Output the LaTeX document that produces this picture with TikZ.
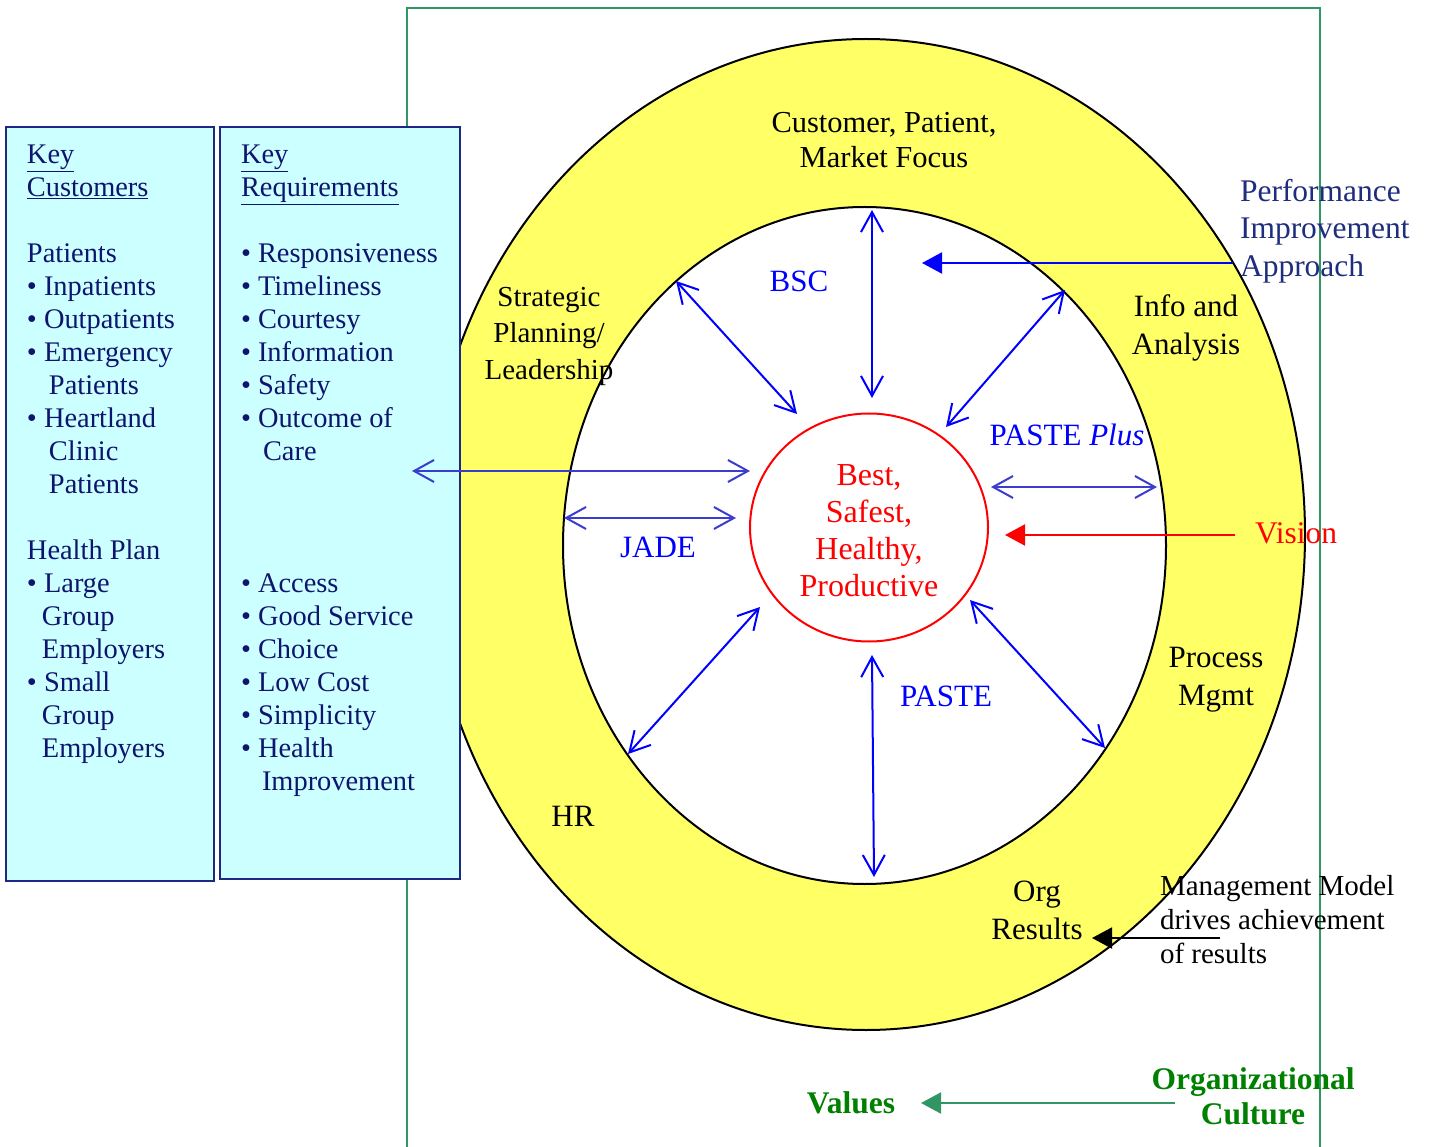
\documentclass[tikz,border=0pt]{standalone}
\usepackage{fontspec}
\setmainfont{Liberation Serif}
\usetikzlibrary{arrows.meta}

\definecolor{boxfill}{RGB}{204,255,255}
\definecolor{boxline}{RGB}{30,40,130}
\definecolor{boxtext}{RGB}{15,20,110}
\definecolor{ringfill}{RGB}{255,255,102}
\definecolor{frame}{RGB}{50,150,100}
\definecolor{cultgreen}{RGB}{0,128,0}
\definecolor{pia}{RGB}{30,45,125}
\definecolor{softblue}{RGB}{60,60,205}

\begin{document}
\begin{tikzpicture}[x=1pt,y=-1pt,
  every node/.style={inner sep=0pt,outer sep=0pt},
  keybox/.style={draw=boxline,line width=2.5pt,fill=boxfill},
  keytext/.style={anchor=north west,align=left,text=boxtext,font=\fontsize{28.4}{33}\selectfont},
  ringlabel/.style={align=center,text=black,font=\fontsize{29}{36.5}\selectfont},
  ringlabelb/.style={align=center,text=black,font=\fontsize{31}{38}\selectfont},
  toollabel/.style={text=blue,font=\fontsize{31}{37}\selectfont},
  twoway/.style={blue,line width=2pt,{Straight Barb[length=20pt,width=22pt]}-{Straight Barb[length=20pt,width=22pt]}},
  twowaysoft/.style={softblue,line width=2pt,{Straight Barb[length=20pt,width=22pt]}-{Straight Barb[length=20pt,width=22pt]}},
  drive/.style={line width=2pt,-{Triangle[length=20pt,width=21pt]}}]

\useasboundingbox (0,0) rectangle (1433,1147);

% organizational culture frame
\draw[frame,line width=2pt] (407,1147) -- (407,8) -- (1320,8) -- (1320,1147);

% management model rings
\draw[black,line width=2pt,fill=ringfill] (866,534.5) ellipse [x radius=439pt,y radius=495.5pt];
\draw[black,line width=2pt,fill=white] (864.5,545.5) ellipse [x radius=301.5pt,y radius=338.5pt];
\draw[red,line width=2pt] (869,527.5) ellipse [x radius=119pt,y radius=114pt];

% key customers and requirements
\draw[keybox] (6,127) rectangle (214,881);
\draw[keybox] (220,127) rectangle (460,879);

\node[keytext] (cust) at (27,145) {\underline{Key}\\\underline{Customers}\\[33pt]
Patients\\
\textbullet\ Inpatients\\
\textbullet\ Outpatients\\
\textbullet\ Emergency\\
\hspace*{22pt}Patients\\
\textbullet\ Heartland\\
\hspace*{22pt}Clinic\\
\hspace*{22pt}Patients\\[33pt]
Health Plan\\
\textbullet\ Large\\
\hspace*{15pt}Group\\
\hspace*{15pt}Employers\\
\textbullet\ Small\\
\hspace*{15pt}Group\\
\hspace*{15pt}Employers};

\node[keytext] (req) at (241,145) {\underline{Key}\\\underline{Requirements}\\[33pt]
\textbullet\ Responsiveness\\
\textbullet\ Timeliness\\
\textbullet\ Courtesy\\
\textbullet\ Information\\
\textbullet\ Safety\\
\textbullet\ Outcome of\\
\hspace*{22pt}Care\\[99pt]
\textbullet\ Access\\
\textbullet\ Good Service\\
\textbullet\ Choice\\
\textbullet\ Low Cost\\
\textbullet\ Simplicity\\
\textbullet\ Health\\
\hspace*{21pt}Improvement};

% ring categories
\node[align=center,text=black,font=\fontsize{30.5}{35}\selectfont] (focus) at (884,140) {Customer, Patient,\\Market Focus};
\node[ringlabel] (strat) at (549,336) {Strategic\\Planning/\\Leadership};
\node[ringlabelb] (info) at (1186,328) {Info and\\Analysis};
\node[ringlabelb] (proc) at (1216,680) {Process\\Mgmt};
\node[ringlabelb] (org) at (1037,910) {Org\\Results};
\node[ringlabelb] (hr) at (573,816) {HR};

% centre goal
\node[align=center,text=red,font=\fontsize{32}{37}\selectfont] (goal) at (869,531)
  {Best,\\Safest,\\Healthy,\\Productive};

% improvement tools
\node[toollabel] (bsc) at (799,281) {BSC};
\node[toollabel] (jade) at (658,547) {JADE};
\node[toollabel] (paste) at (946,696) {PASTE};
\node[toollabel] (plus) at (1067,435) {PASTE \textit{Plus}};

% arrow end points on the rings
\coordinate (nT) at (872,210);   \coordinate (nTc) at (872,398);
\coordinate (nUL) at (676,281);  \coordinate (nULc) at (797,414);
\coordinate (nUR) at (1065,290); \coordinate (nURc) at (946,427);
\coordinate (nLL) at (628,754);  \coordinate (nLLc) at (760,607);
\coordinate (nLR) at (1105,748); \coordinate (nLRc) at (970,600);
\coordinate (nB) at (874,877);   \coordinate (nBc) at (872,655);
\coordinate (reqR) at (412,471); \coordinate (goalL) at (750,471);
\coordinate (jadeL) at (564,518); \coordinate (jadeR) at (736,518);
\coordinate (plusL) at (991,487); \coordinate (plusR) at (1157,487);

\draw[twoway] (nT) -- (nTc);
\draw[twoway] (nUL) -- (nULc);
\draw[twoway] (nUR) -- (nURc);
\draw[twoway] (nLL) -- (nLLc);
\draw[twoway] (nLR) -- (nLRc);
\draw[twoway] (nB) -- (nBc);
\draw[twowaysoft] (reqR) -- (goalL);
\draw[twowaysoft] (jadeL) -- (jadeR);
\draw[twowaysoft] (plusL) -- (plusR);

% drivers
\node[anchor=north west,align=left,text=pia,font=\fontsize{31.5}{37.5}\selectfont] (perf) at (1240,179)
  {Performance\\Improvement\\Approach};
\coordinate (perfS) at (1233,263); \coordinate (perfE) at (922,263);
\draw[drive,blue] (perfS) -- (perfE);

\node[anchor=west,text=red,font=\fontsize{31.5}{37}\selectfont] (vision) at (1255,533) {Vision};
\coordinate (visS) at (1235,535); \coordinate (visE) at (1005,535);
\draw[drive,red] (visS) -- (visE);

\node[anchor=north west,align=left,text=black,font=\fontsize{29}{34}\selectfont] (mm) at (1160,875)
  {Management Model\\drives achievement\\of results};
\coordinate (mmS) at (1220,938); \coordinate (mmE) at (1092,938);
\draw[drive,black] (mmS) -- (mmE);

\node[text=cultgreen,font=\bfseries\fontsize{31.5}{35}\selectfont] (values) at (851,1103) {Values};
\node[align=center,text=cultgreen,font=\bfseries\fontsize{31.5}{35}\selectfont] (culture) at (1253,1096)
  {Organizational\\Culture};
\coordinate (cultS) at (1175,1103); \coordinate (cultE) at (921,1103);
\draw[drive,frame] (cultS) -- (cultE);

\end{tikzpicture}
\end{document}
